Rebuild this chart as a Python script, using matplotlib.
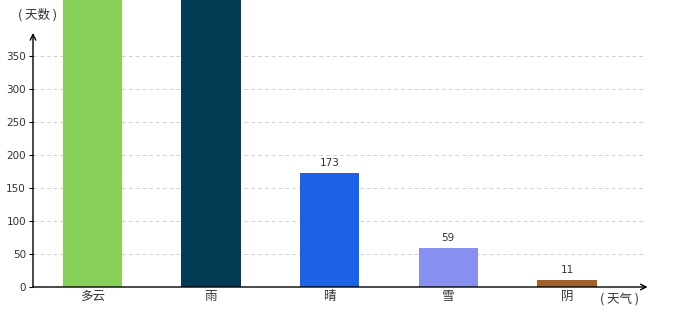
import matplotlib.pyplot as plt

plt.rcParams['font.family'] = ['Noto Sans CJK SC', 'DejaVu Sans']

weather = ["多云", "雨", "晴", "雪", "阴"]
days = [480, 470, 173, 59, 11]
show_label = [False, False, True, True, True]
colors = ["#87d057", "#033b55", "#1b62e9", "#8790f0", "#a0602b"]
yticks = [0, 50, 100, 150, 200, 250, 300, 350]

fig = plt.figure(figsize=(6.8, 3.2), dpi=100)
ax = fig.add_axes([33 / 680, 33 / 320, (650 - 33) / 680, 287 / 320])

x = range(len(weather))
ax.bar(x, days, width=0.5, color=colors, zorder=3)
for i, (v, s) in enumerate(zip(days, show_label)):
    if s:
        ax.text(i, v + 7, str(v), ha="center", va="bottom", fontsize=7.5,
                color="#333333", family="DejaVu Sans")

for t in yticks[1:]:
    ax.plot([-0.5, 4.66], [t, t], ls=(0, (4, 3)), color="#d0d0d0", lw=0.7, zorder=1)

ax.set_xlim(-0.5, 4.7)
ax.set_ylim(0, 435)
for s in ax.spines.values():
    s.set_visible(False)

ax.set_xticks(list(x))
ax.set_xticklabels(weather, fontsize=9, color="#333333")
ax.tick_params(axis="x", length=0, pad=2)
ax.set_yticks(yticks)
ax.set_yticklabels([str(t) for t in yticks], fontsize=7.5, color="#333333",
                   family="DejaVu Sans")
ax.tick_params(axis="y", length=3, width=0.8, pad=2)

# axes with arrows
ax.annotate("", xy=(4.68, 0), xytext=(-0.5, 0),
            arrowprops=dict(arrowstyle="->", lw=1.0, color="black",
                            shrinkA=0, shrinkB=0), zorder=5, annotation_clip=False)
ax.annotate("", xy=(-0.5, 385), xytext=(-0.5, 0),
            arrowprops=dict(arrowstyle="->", lw=1.0, color="black",
                            shrinkA=0, shrinkB=0), zorder=5, annotation_clip=False)

fig.text(38 / 680, 1 - 15 / 320, "( 天数 )", ha="center", va="center", fontsize=9, color="#333333")
fig.text(620 / 680, 1 - 299 / 320, "( 天气 )", ha="center", va="center", fontsize=9, color="#333333")

fig.savefig("out.png", dpi=100)
